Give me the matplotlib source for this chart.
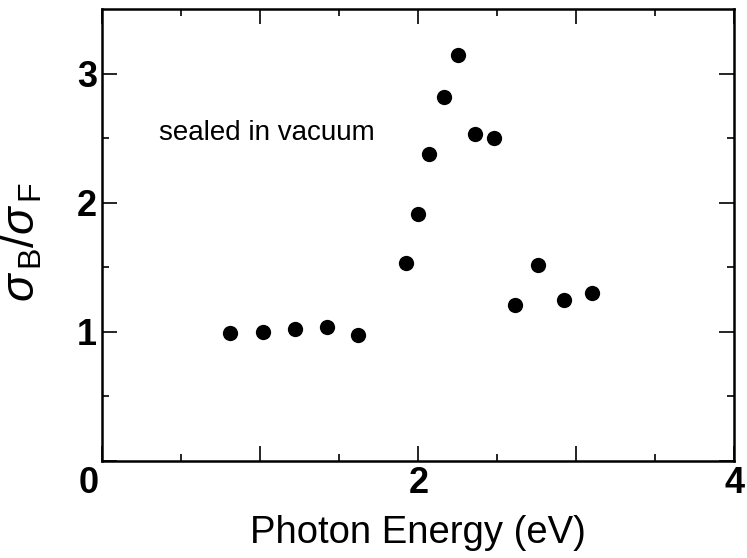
import numpy as np
import matplotlib
matplotlib.use("Agg")
import matplotlib.pyplot as plt
from matplotlib.transforms import ScaledTranslation

plt.rcParams['font.family'] = ['Liberation Sans', 'DejaVu Sans']
plt.rcParams['mathtext.fontset'] = 'custom'
plt.rcParams['mathtext.rm'] = 'Liberation Sans'
plt.rcParams['mathtext.it'] = 'Liberation Sans:italic'

# photon energy (eV) and sigma_B / sigma_F
energy = [0.81, 1.02, 1.22, 1.42, 1.62,
          1.92, 2.00, 2.07, 2.16, 2.25, 2.36, 2.48,
          2.61, 2.76, 2.92, 3.10]
ratio = [0.995, 1.00, 1.02, 1.04, 0.98,
         1.535, 1.915, 2.38, 2.82, 3.15, 2.535, 2.50,
         1.205, 1.52, 1.245, 1.305]

xticks = [0, 1, 2, 3, 4]
xticklabels = ['0', '', '2', '', '4']
yticks = [0, 1, 2, 3]
yticklabels = ['', '1', '2', '3']

fig = plt.figure(figsize=(7.47, 5.58), dpi=100)
ax = fig.add_axes([0.137, 0.174, 0.846, 0.809])

ax.plot(energy, ratio, 'o', color='black', markersize=11, markeredgewidth=0)

ax.set_xlim(0, 4)
ax.set_ylim(0, 3.5)

ax.set_xticks(xticks)
ax.set_xticklabels(xticklabels, fontweight='bold')
ax.set_xticks(np.arange(0.5, 4, 1.0), minor=True)
ax.set_yticks(yticks)
ax.set_yticklabels(yticklabels, fontweight='bold')
ax.set_yticks(np.arange(0.5, 3.5, 1.0), minor=True)

ax.tick_params(which='both', direction='in', top=True, right=True, width=1.2)
ax.tick_params(which='major', length=11, labelsize=26, pad=4)
ax.tick_params(which='minor', length=5)
for s in ax.spines.values():
    s.set_linewidth(1.8)

# origin label sits a little to the left of the corner
lab0 = ax.get_xticklabels()[0]
lab0.set_transform(lab0.get_transform() + ScaledTranslation(-10 / 72, 0, fig.dpi_scale_trans))

ax.set_xlabel('Photon Energy (eV)', fontsize=27.5, labelpad=10)
ax.set_ylabel(r'$\sigma_{\,\mathregular{B}}/\sigma_{\,\mathregular{F}}$', fontsize=33)
ax.yaxis.set_label_coords(-0.092, 0.485)

ax.text(0.36, 2.54, 'sealed in vacuum', fontsize=20, ha='left', va='center')

fig.savefig('out.png', dpi=100)
plt.close(fig)
